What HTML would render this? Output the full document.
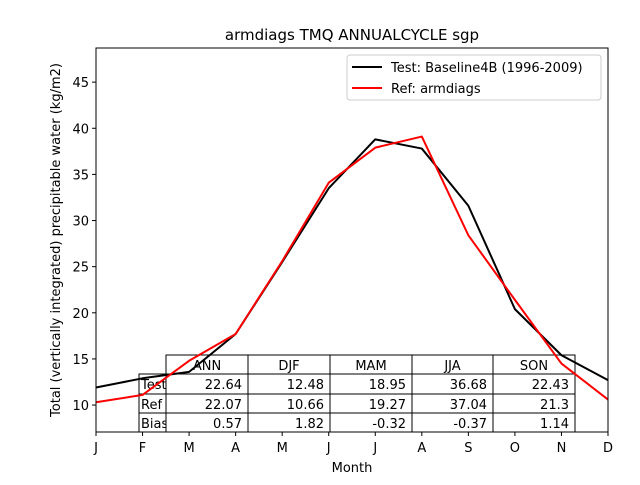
<!DOCTYPE html>
<html><head><meta charset="utf-8"><style>
body{margin:0;background:#fff;}
svg{font-family:"DejaVu Sans","Liberation Sans",sans-serif;}
</style></head><body>
<svg id="chart" width="640" height="480" xmlns="http://www.w3.org/2000/svg">
<rect width="640" height="480" fill="#fff"/>
<text x="352" y="40" text-anchor="middle" font-size="15">armdiags TMQ ANNUALCYCLE sgp</text>
<g id="tableg"></g>
<g id="lines"></g>
<rect x="96" y="48" width="512" height="384" fill="none" stroke="#000" stroke-width="1"/>
<g id="axes"></g>
<text x="352" y="472" text-anchor="middle" font-size="13">Month</text>
<text transform="translate(60,240) rotate(-90)" text-anchor="middle" font-size="13">Total (vertically integrated) precipitable water (kg/m2)</text>
<g>
<rect x="347" y="55" width="254" height="45" rx="3" fill="#fff" stroke="#ccc"/>
<line x1="352" y1="67" x2="382" y2="67" stroke="#000" stroke-width="2"/>
<text x="391" y="72" font-size="13">Test: Baseline4B (1996-2009)</text>
<line x1="352" y1="88" x2="382" y2="88" stroke="red" stroke-width="2"/>
<text x="391" y="93" font-size="13">Ref: armdiags</text>
</g>
</svg>
<script>
const months=["J","F","M","A","M","J","J","A","S","O","N","D"];
const testVals=[11.9,12.9,13.6,17.7,25.5,33.5,38.8,37.8,31.6,20.4,15.4,12.7];
const refVals=[10.3,11.1,14.8,17.7,25.6,34.1,37.9,39.1,28.4,21.4,14.5,10.6];
const yTicks=[10,15,20,25,30,35,40,45];
const tableCols=["ANN","DJF","MAM","JJA","SON"];
const tableRows=["Test","Ref","Bias"];
const tableTest=["22.64","12.48","18.95","36.68","22.43"];
const tableRef=["22.07","10.66","19.27","37.04","21.3"];
const tableBias=["0.57","1.82","-0.32","-0.37","1.14"];
const NS="http://www.w3.org/2000/svg";
const yMin=7.08,yMax=48.7;
const xs=i=>96+i*512/11;
const ys=v=>432-(v-yMin)/(yMax-yMin)*384;
function mk(t,a,p){const e=document.createElementNS(NS,t);for(const k in a)e.setAttribute(k,a[k]);p.appendChild(e);return e;}
const ax=document.getElementById('axes');
months.forEach((m,i)=>{
 const tk=mk('line',{x1:xs(i),x2:xs(i),y1:432,y2:436,stroke:'#000'},ax);
 
 
 const t=mk('text',{x:xs(i),y:452,'text-anchor':'middle','font-size':13},ax);t.textContent=m;
 
 
});
yTicks.forEach(v=>{
 const tk=mk('line',{x1:92,x2:96,y1:ys(v),y2:ys(v),stroke:'#000'},ax);
 
 
 const t=mk('text',{x:89,y:ys(v)+5,'text-anchor':'end','font-size':13},ax);t.textContent=v;
 
 
});
// table
const tg=document.getElementById('tableg');
const colX=[166,248,330,412,493,575], rowY=[355,374,394,413,432];
tableCols.forEach((c,j)=>{
 const r=mk('rect',{x:colX[j],y:rowY[0],width:colX[j+1]-colX[j],height:rowY[1]-rowY[0],fill:'#fff',stroke:'#000'},tg);
 
 
 const t=mk('text',{x:(colX[j]+colX[j+1])/2,y:rowY[0]+15,'text-anchor':'middle','font-size':13},tg);t.textContent=c;
 
 
});
const data=[tableTest,tableRef,tableBias];
tableRows.forEach((rn,i)=>{
 const y0=rowY[i+1],h=rowY[i+2]-rowY[i+1];
 const cp=mk('clipPath',{id:'cl'+i},tg);mk('rect',{x:139,y:y0,width:27,height:h},cp);
 const lr=mk('rect',{x:139,y:y0,width:27,height:h,fill:'#fff',stroke:'#000'},tg);
 
 
 const lt=mk('text',{x:141,y:y0+15,'font-size':13,'clip-path':'url(#cl'+i+')'},tg);lt.textContent=rn;
 
 
 data[i].forEach((v,j)=>{
  const r=mk('rect',{x:colX[j],y:y0,width:colX[j+1]-colX[j],height:h,fill:'#fff',stroke:'#000'},tg);
  
  
  const t=mk('text',{x:colX[j+1]-6,y:y0+15,'text-anchor':'end','font-size':13},tg);t.textContent=v;
  
  
 });
});
const lg=document.getElementById('lines');
function series(vals,color,name){
 const p=mk('polyline',{points:vals.map((v,i)=>xs(i)+','+ys(v)).join(' '),fill:'none',stroke:color,'stroke-width':2,'stroke-linejoin':'round'},lg);
 
 
}
series(testVals,'#000','test-line');
series(refVals,'red','ref-line');
</script>
</body></html>
